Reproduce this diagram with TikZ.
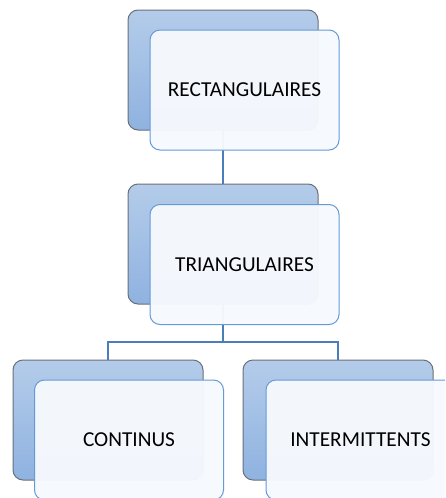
\documentclass[tikz,border=0pt]{standalone}
\usepackage{fontspec}
\setmainfont{Carlito}
\definecolor{backtop}{RGB}{180,204,234}
\definecolor{backbot}{RGB}{143,178,224}
\definecolor{backline}{RGB}{105,112,122}
\definecolor{frontfill}{RGB}{246,249,253}
\definecolor{frontline}{RGB}{100,155,215}
\definecolor{conn}{RGB}{74,126,187}
\tikzset{
 backbox/.style={draw=backline, line width=1pt, rounded corners=10pt, top color=backtop, bottom color=backbot, minimum width=190pt, minimum height=120pt, inner sep=0pt},
 frontbox/.style={draw=frontline, line width=1pt, rounded corners=10pt, fill=frontfill, fill opacity=0.97, text opacity=1, minimum width=189pt, minimum height=120pt, inner sep=0pt, font=\fontsize{21.3}{25}\selectfont},
 link/.style={draw=conn, line width=2.2pt}
}
\begin{document}
\begin{tikzpicture}[x=1pt,y=-1pt]
\useasboundingbox (0,0) rectangle (445,498);
\clip (0,0) rectangle (445,498);
\node[backbox] (b1) at (223,70) {};
\node[backbox] (b2) at (223,244) {};
\node[backbox] (b3) at (108,420) {};
\node[backbox] (b4) at (338,420) {};
\coordinate (j) at (223,342);
\draw[link] (b1.south) -- (b2.north);
\draw[link] (b2.south) -- (j);
\draw[link] (j) -| (b3.north);
\draw[link] (j) -| (b4.north);
\node[frontbox] (f1) at (244.5,90) {RECTANGULAIRES};
\node[frontbox] (f2) at (244.5,264.5) {TRIANGULAIRES};
\node[frontbox] (f3) at (129,440) {CONTINUS};
\node[frontbox] (f4) at (360.5,440) {INTERMITTENTS};
\end{tikzpicture}
\end{document}
